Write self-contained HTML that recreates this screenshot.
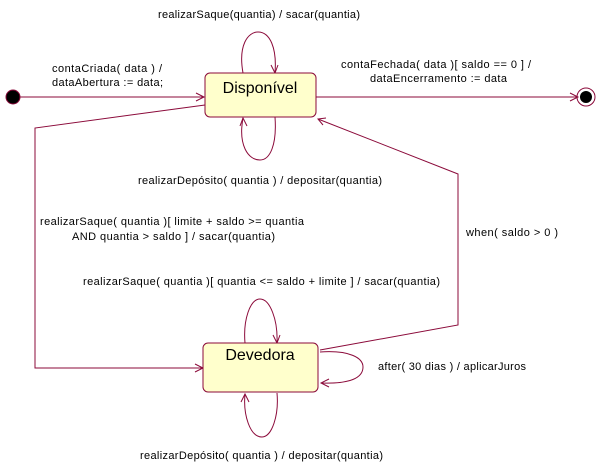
<!DOCTYPE html>
<html><head><meta charset="utf-8"><style>
html,body{margin:0;padding:0;background:#fff;}
svg{display:block;font-family:"Liberation Sans",sans-serif;}
text{font-size:11px;fill:#000;}
</style></head><body>
<svg width="600" height="468" viewBox="0 0 600 468" xmlns="http://www.w3.org/2000/svg">
<g fill="none" stroke="#8b0a3a" stroke-width="1">
<line x1="13" y1="97" x2="204" y2="97"/>
<polyline points="196,93 204,97 196,101"/>
<line x1="316" y1="97" x2="578" y2="97"/>
<polyline points="570,93 578,97 570,101"/>
<circle cx="586" cy="97" r="9"/>
<path d="M243,73 C238,45 248,32 258,32 C270,32 277,48 275,73"/>
<polyline points="271,65 275,73 278,65"/>
<path d="M275,117 C277,145 270,160 260,160 C248,160 238,145 243,118"/>
<polyline points="240,126 243,118 247,126"/>
<polyline points="205,105 35,128 35,368 203,368"/>
<polyline points="195,364 203,368 195,372"/>
<polyline points="320,350 458,325 458,174 318,119"/>
<polyline points="323,125 318,119 326,118"/>
<path d="M245,343 C243,320 250,299 260,299 C270,299 278,320 277,343"/>
<polyline points="273,335 277,343 280,335"/>
<path d="M277,393 C279,415 272,437 262,437 C250,437 243,415 245,394"/>
<polyline points="241,402 245,394 249,402"/>
<path d="M320,352 C350,350 363,358 363,367 C363,378 350,384 321,383"/>
<polyline points="329,379 321,383 329,387"/>
</g>
<circle cx="13" cy="97" r="7" fill="#000" stroke="#8b0a3a"/>
<circle cx="586" cy="97" r="6" fill="#000"/>
<rect x="205" y="73" width="111" height="44" rx="5" fill="#ffffcc" stroke="#8b0a3a"/>
<rect x="203" y="343" width="115" height="49" rx="5" fill="#ffffcc" stroke="#8b0a3a"/>
<text x="260" y="93" text-anchor="middle" style="font-size:16px">Disponível</text>
<text x="260" y="360" text-anchor="middle" style="font-size:16px">Devedora</text>
<text x="158" y="18" textLength="202" lengthAdjust="spacing">realizarSaque(quantia) / sacar(quantia)</text>
<text x="52" y="72" textLength="110" lengthAdjust="spacing">contaCriada( data ) /</text>
<text x="52" y="86" textLength="111" lengthAdjust="spacing">dataAbertura := data;</text>
<text x="341" y="68" textLength="190" lengthAdjust="spacing">contaFechada( data )[ saldo == 0 ] /</text>
<text x="370" y="82" textLength="137" lengthAdjust="spacing">dataEncerramento := data</text>
<text x="138" y="184" textLength="244" lengthAdjust="spacing">realizarDepósito( quantia ) / depositar(quantia)</text>
<text x="40" y="225" textLength="264" lengthAdjust="spacing">realizarSaque( quantia )[ limite + saldo &gt;= quantia</text>
<text x="72" y="240" textLength="203" lengthAdjust="spacing">AND quantia &gt; saldo ] / sacar(quantia)</text>
<text x="466" y="236" textLength="92" lengthAdjust="spacing">when( saldo &gt; 0 )</text>
<text x="83" y="285" textLength="357" lengthAdjust="spacing">realizarSaque( quantia )[ quantia &lt;= saldo + limite ] / sacar(quantia)</text>
<text x="378" y="370" textLength="148" lengthAdjust="spacing">after( 30 dias ) / aplicarJuros</text>
<text x="140" y="459" textLength="243" lengthAdjust="spacing">realizarDepósito( quantia ) / depositar(quantia)</text>
</svg>
</body></html>
